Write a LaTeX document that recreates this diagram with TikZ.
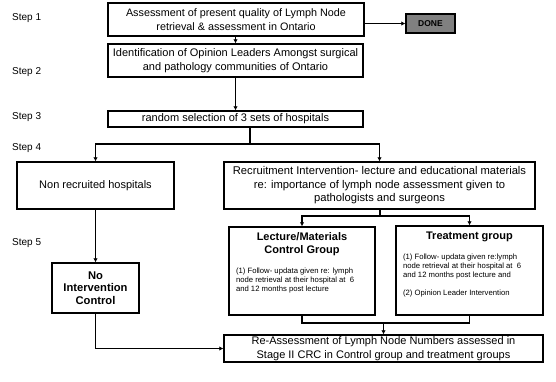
\documentclass[tikz,border=0pt]{standalone}
\usepackage{fontspec}
\setmainfont{Liberation Sans}
\usetikzlibrary{arrows.meta}
\begin{document}
\begin{tikzpicture}[x=1pt,y=-1pt]

    \tikzset{
      box/.style={
        draw,
        line width=1.4pt,
        align=center,
        inner sep=0pt,
        font=\fontsize{11}{13.5}\selectfont,
      },
      steplabel/.style={anchor=west, inner sep=0pt, font=\fontsize{10}{10}\selectfont},
      link/.style={line width=1.4pt},
      arr/.style={line width=1.4pt, -{Latex[length=4pt,width=4.5pt]}},
    }
    \useasboundingbox (0,0) rectangle (556,381);
	\node[steplabel] (step1) at (12,18) {Step 1};
	\node[steplabel] (step2) at (12,72) {Step 2};
	\node[steplabel] (step3) at (12,117) {Step 3};
	\node[steplabel] (step4) at (12,148) {Step 4};
	\node[steplabel] (step5) at (12,243) {Step 5};
	\node[box, minimum width=256pt, minimum height=33pt, font=\fontsize{10.8}{13.5}\selectfont] (assess) at (236,19.5) {Assessment of present quality of Lymph Node\\retrieval \& assessment in Ontario};
	\node[box, fill=gray, minimum width=49pt, minimum height=19pt, font=\bfseries\fontsize{8.5}{10}\selectfont] (done) at (430.5,23.5) {DONE};
	\node[box, minimum width=255pt, minimum height=33pt] (leaders) at (235.5,60.5) {Identification of Opinion Leaders Amongst surgical\\and pathology communities of Ontario};
	\node[box, minimum width=255pt, minimum height=16pt] (random) at (235.5,119) {random selection of 3 sets of hospitals};
	\coordinate (split) at (250,144);
	\node[box, minimum width=157pt, minimum height=47pt] (nonrec) at (95.5,185.5) {Non recruited hospitals};
	\node[box, minimum width=311pt, minimum height=47pt, font=\fontsize{11.2}{13.5}\selectfont] (recruit) at (379.5,185.5) {Recruitment Intervention- lecture and educational materials\\re: importance of lymph node assessment given to\\pathologists and surgeons};
	\coordinate (split2) at (380,216);
	\node[box, minimum width=87pt, minimum height=50pt, font=\bfseries\fontsize{11.2}{12.5}\selectfont] (noint) at (95.5,288) {No\\Intervention\\Control};
	\node[box, minimum width=146pt, minimum height=88pt] (lecture) at (302,271) {\parbox[c][84pt][t]{132pt}{\vspace*{4pt}\centering\bfseries\fontsize{11}{13}\selectfont Lecture/Materials\\Control Group\par\vspace{11pt}\raggedright\mdseries\fontsize{7.7}{9}\selectfont (1) Follow- updata given re: lymph\\node retrieval at their hospital at\ \ 6\\and 12 months post lecture}};
	\node[box, minimum width=147pt, minimum height=89pt] (treat) at (469.5,270.5) {\parbox[c][85pt][t]{133pt}{\vspace*{4pt}\centering\bfseries\fontsize{11}{13}\selectfont Treatment group\par\vspace{11pt}\raggedright\mdseries\fontsize{7.7}{9}\selectfont (1) Follow- updata given re:lymph\\node retrieval at their hospital at\ \ 6\\and 12 months post lecture and\\[9pt](2) Opinion Leader Intervention}};
	\coordinate (merge) at (383.5,323);
	\node[box, minimum width=319pt, minimum height=27pt] (final) at (383.5,348.5) {Re-Assessment of Lymph Node Numbers assessed in\\Stage II CRC in Control group and treatment groups};
	\draw[arr] (assess.east |- done.west) -- (done.west);
	\draw[arr] (assess.south -| leaders.north) -- (leaders.north);
	\draw[arr] (leaders.south) -- (random.north);
	\draw[link] (random.south -| split) -- (split);
	\draw[arr] (split) -| (nonrec.north);
	\draw[arr] (split) -| (recruit.north);
	\draw[arr] (nonrec.south) -- (noint.north);
	\draw[link] (recruit.south -| split2) -- (split2);
	\draw[arr] (split2) -| (lecture.north);
	\draw[arr] (split2) -| (treat.north);
	\draw[link] (lecture.south) |- (merge) -| (treat.south);
	\draw[arr] (merge) -- (final.north);
	\draw[arr] (noint.south) |- (final.west);

\end{tikzpicture}
\end{document}
